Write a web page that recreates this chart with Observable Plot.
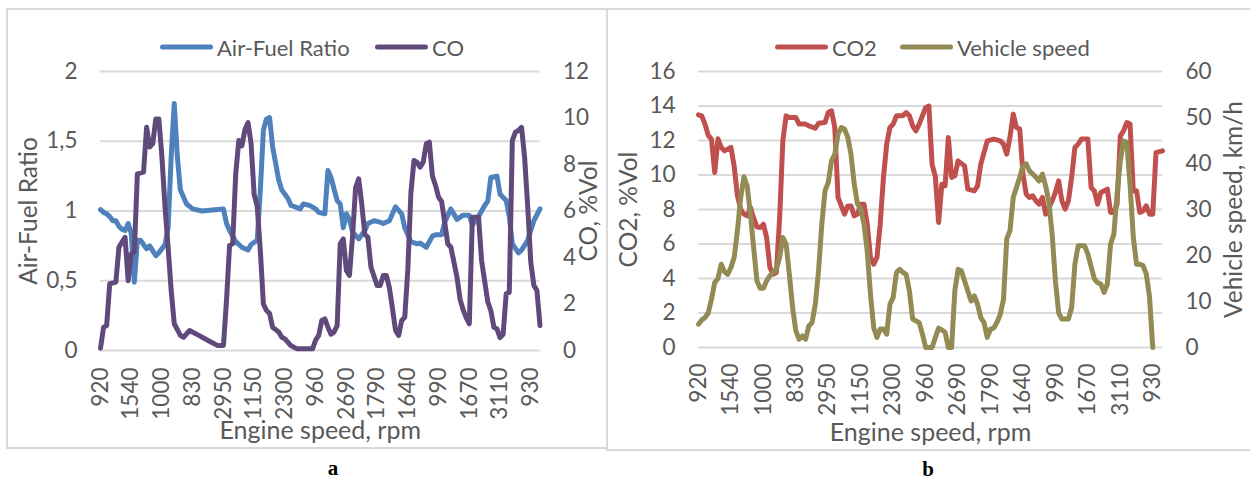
<!DOCTYPE html>
<html><head><meta charset="utf-8">
<script src="https://cdn.jsdelivr.net/npm/d3@7"></script>
<script src="https://cdn.jsdelivr.net/npm/@observablehq/plot@0.6"></script>
<style>
body{margin:0;background:#fff;}
#root{position:relative;width:1250px;height:481px;overflow:hidden;font-family:Lato,"Open Sans",sans-serif;background:#fff;}
.chart{position:absolute;top:0;}
.border{position:absolute;border:2px solid #d9d9d9;box-sizing:border-box;pointer-events:none;z-index:3;}
.leg{position:absolute;display:flex;align-items:center;color:#595959;font-size:22px;white-space:nowrap;transform:translateY(-50%);z-index:4;}
.sw{display:inline-block;width:53px;height:5px;border-radius:3px;margin-right:4px;}
.lab{position:absolute;font-family:"Liberation Serif","DejaVu Serif",serif;font-weight:bold;font-size:21px;transform:translate(-50%,-50%);color:#000;}
</style>
</head><body>
<div id="root">
  <div class="chart" id="ca" style="left:0;"></div>
  <div class="chart" id="cb" style="left:607px;"></div>
  <div class="border" style="left:6px;top:8px;width:602px;height:441px;"></div>
  <div class="border" style="left:606px;top:8px;width:660px;height:443px;"></div>
  <div class="leg" style="left:160px;top:47px;"><span class="sw" style="background:#4f81bd"></span>Air-Fuel Ratio</div>
  <div class="leg" style="left:375px;top:47px;"><span class="sw" style="background:#604a7b"></span>CO</div>
  <div class="leg" style="left:775px;top:47px;"><span class="sw" style="background:#c0504d"></span>CO2</div>
  <div class="leg" style="left:900px;top:47px;"><span class="sw" style="background:#948a54"></span>Vehicle speed</div>
  <div class="lab" style="left:333px;top:468px;">a</div>
  <div class="lab" style="left:928px;top:469px;">b</div>
</div>
<script>
// Category tick labels (engine speed, rpm), shown every 10th category
const xLabels = ["920","1540","1000","830","2950","1150","2300","960","2690","1790","1640","990","1670","3110","930"];
const xTickIdx = xLabels.map((_, i) => i * 10);
const nCategories = 144;

// Panel a: [category index, value]
const airFuelRatio = [[0,1.01],[1,0.99],[2,0.98],[3,0.96],[4,0.93],[5,0.93],[6,0.89],[7,0.87],[8,0.86],[9,0.91],[10,0.84],[11,0.49],[12,0.79],[13,0.79],[15,0.73],[16,0.75],[18,0.68],[19,0.70],[21,0.76],[22,0.88],[23,1.39],[24,1.77],[25,1.39],[26,1.15],[28,1.05],[30,1.015],[33,1.0],[40,1.015],[41,0.91],[42,0.86],[44,0.78],[46,0.74],[48,0.72],[49,0.76],[51,0.79],[52,1.15],[53,1.58],[54,1.66],[55,1.67],[56,1.46],[58,1.22],[59,1.15],[61,1.09],[62,1.04],[65,1.015],[66,1.05],[68,1.04],[70,1.015],[71,0.99],[73,0.98],[74,1.29],[75,1.24],[77,1.075],[78,1.05],[79,0.88],[80,0.98],[81,0.94],[82,0.85],[84,0.80],[86,0.86],[87,0.91],[89,0.93],[91,0.92],[92,0.91],[94,0.93],[96,1.03],[98,0.98],[99,0.88],[101,0.78],[103,0.765],[104,0.77],[106,0.74],[108,0.82],[109,0.83],[111,0.83],[112,0.92],[114,1.015],[116,0.94],[118,0.97],[120,0.97],[121,0.90],[123,0.96],[125,1.04],[126,1.07],[127,1.24],[129,1.25],[130,1.12],[132,1.075],[133,0.96],[134,0.765],[136,0.70],[137,0.72],[139,0.79],[141,0.93],[143,1.015]];
const coVol = [[0,0.1],[1,1.0],[2,1.07],[3,2.87],[5,2.94],[6,4.44],[7,4.66],[8,4.87],[9,3.0],[10,4.16],[11,4.23],[12,7.6],[14,7.67],[15,9.6],[16,8.75],[17,8.9],[18,9.96],[19,9.96],[20,8.3],[21,6.16],[22,4.44],[23,2.58],[24,1.15],[26,0.65],[27,0.57],[29,0.86],[32,0.65],[35,0.43],[38,0.22],[40,0.22],[41,2.15],[42,4.52],[43,4.59],[44,7.6],[45,9.03],[46,8.8],[47,9.5],[48,9.8],[49,8.9],[50,6.7],[51,6.2],[52,4.3],[53,2.0],[54,1.72],[55,1.6],[56,1.0],[58,0.8],[59,0.57],[60,0.5],[62,0.2],[64,0.07],[69,0.07],[70,0.45],[71,0.65],[72,1.29],[73,1.36],[74,1.0],[75,0.7],[76,0.8],[77,1.07],[78,4.59],[79,4.8],[80,3.44],[81,3.23],[82,4.9],[83,7.0],[84,7.38],[85,6.3],[86,5.0],[87,4.87],[88,3.58],[90,2.8],[91,2.8],[92,3.23],[93,3.23],[94,2.7],[95,1.8],[96,0.86],[97,0.65],[98,1.29],[99,1.43],[100,3.5],[101,6.8],[102,8.17],[103,8.1],[104,7.89],[105,8.1],[106,8.89],[107,8.96],[108,7.5],[109,7.1],[110,6.6],[111,6.4],[112,5.5],[113,4.59],[114,4.44],[116,3.15],[117,2.2],[118,1.75],[119,1.4],[120,1.15],[121,5.73],[123,5.73],[124,3.87],[126,2.1],[127,1.72],[128,1.0],[129,0.93],[130,0.55],[131,0.7],[132,2.44],[133,2.5],[134,9.03],[135,9.39],[136,9.46],[137,9.6],[138,8.3],[139,6.2],[140,3.8],[141,2.8],[142,2.58],[143,1.07]];

// Panel b: [category index, value]
const co2Vol = [[0,13.49],[1,13.43],[2,12.95],[3,12.3],[4,12.08],[5,10.14],[6,12.1],[7,11.6],[8,11.4],[10,11.6],[11,10.5],[12,8.8],[13,8.0],[14,7.73],[15,7.63],[16,8.12],[17,7.5],[18,7.0],[19,6.96],[20,7.15],[21,6.38],[22,4.64],[23,4.25],[24,4.35],[25,7.5],[26,12.0],[27,13.43],[28,13.33],[30,13.33],[31,12.95],[33,12.95],[34,12.85],[36,12.71],[37,13.0],[39,13.04],[40,13.62],[41,13.72],[42,12.75],[43,8.7],[44,8.21],[45,7.73],[46,8.21],[47,8.21],[48,7.63],[49,7.73],[50,8.31],[51,8.31],[52,7.15],[53,5.22],[54,4.83],[55,5.22],[56,7.15],[57,9.86],[58,11.79],[59,12.75],[60,12.95],[61,13.43],[63,13.43],[64,13.62],[65,13.43],[66,12.85],[67,12.56],[68,12.95],[69,13.43],[70,13.9],[71,14.0],[72,10.6],[73,9.9],[74,7.25],[75,9.47],[76,9.37],[77,12.17],[78,9.86],[79,9.95],[80,10.82],[82,10.53],[83,9.18],[85,9.08],[86,9.37],[87,10.63],[89,11.98],[91,12.08],[93,11.98],[94,11.79],[95,11.21],[96,12.2],[97,13.53],[98,12.75],[99,12.66],[100,10.05],[101,8.89],[102,8.7],[103,8.79],[104,8.5],[105,8.31],[106,8.7],[107,7.73],[109,8.5],[110,8.99],[111,9.66],[112,8.5],[113,8.02],[114,8.5],[115,9.86],[116,11.59],[117,11.79],[118,12.08],[120,12.08],[121,9.28],[122,9.08],[123,8.31],[124,8.99],[126,9.18],[127,7.83],[128,7.83],[129,8.31],[130,12.27],[131,12.56],[132,13.04],[133,12.95],[134,9.08],[135,9.08],[136,7.83],[137,7.92],[138,8.21],[139,7.73],[140,7.73],[141,11.3],[143,11.4]];
const vehicleSpeed = [[0,5.07],[1,6.0],[2,6.5],[3,7.5],[4,10.5],[5,14.1],[6,15.0],[7,18.1],[8,16.5],[9,15.9],[10,17.4],[11,19.6],[12,25.4],[13,32.6],[14,37.1],[15,35.1],[16,29.0],[17,21.7],[18,14.5],[19,12.9],[20,12.9],[21,14.5],[22,15.6],[24,17.0],[25,19.6],[26,23.9],[27,22.5],[28,15.9],[29,8.7],[30,3.6],[31,1.8],[32,2.5],[33,1.8],[34,4.7],[35,5.4],[36,9.4],[37,16.7],[38,26.8],[39,34.1],[40,35.9],[41,40.6],[42,42.0],[43,46.4],[44,47.8],[45,47.5],[46,45.7],[47,42.0],[48,35.5],[49,31.2],[50,30.1],[51,26.8],[52,21.0],[53,11.6],[54,4.3],[55,2.2],[56,4.0],[57,4.0],[58,2.9],[59,9.4],[60,10.9],[61,16.3],[62,17.0],[63,16.3],[64,15.9],[65,12.3],[66,6.2],[68,5.4],[69,3.0],[70,0],[72,0],[73,2.2],[74,4.2],[75,3.8],[76,3.3],[77,0],[78,0],[79,12.3],[80,17.0],[81,16.7],[83,12.3],[84,10.1],[85,11.2],[86,9.4],[87,6.5],[88,5.4],[89,2.2],[90,4.0],[91,4.2],[92,5.5],[93,7.2],[94,10.5],[95,23.6],[96,25.4],[97,32.6],[99,37.0],[100,39.5],[101,39.9],[102,38.4],[104,37.0],[105,36.2],[106,37.7],[107,35.1],[108,31.5],[109,24.5],[110,14.5],[111,7.5],[112,6.2],[114,6.2],[115,8.7],[116,18.1],[117,22.1],[119,22.1],[120,20.3],[122,14.9],[123,14.1],[124,13.8],[125,12.0],[126,13.8],[127,22.5],[128,24.6],[129,33.3],[130,40.6],[131,44.9],[132,44.6],[133,35.5],[134,24.0],[135,18.1],[136,18.1],[137,17.8],[138,16.0],[139,11.0],[140,0]];

// Axis ticks
const afrTicks = [0, 0.5, 1, 1.5, 2];
const coTicks = [0, 2, 4, 6, 8, 10, 12];
const co2Ticks = [0, 2, 4, 6, 8, 10, 12, 14, 16];
const speedTicks = [0, 10, 20, 30, 40, 50, 60];

const grey = "#595959";

function makePanel(cfg) {
  const k = cfg.rightMax / cfg.leftMax;
  const lineOpts = {strokeWidth: 5, strokeLinejoin: "round", strokeLinecap: "round"};
  return Plot.plot({
    width: cfg.width, height: cfg.height,
    marginLeft: cfg.ml, marginRight: cfg.mr, marginTop: cfg.mt, marginBottom: cfg.mb,
    style: {fontFamily: "Lato, 'Open Sans', sans-serif", fontSize: "22.5px", color: grey, background: "transparent"},
    x: {domain: [0, nCategories - 1]},
    y: {domain: [0, cfg.leftMax]},
    marks: [
      Plot.gridY(cfg.leftTicks, {stroke: "#d9d9d9", strokeOpacity: 1, strokeWidth: 2}),
      Plot.axisY(cfg.leftTicks, {anchor: "left", tickSize: 0, tickPadding: 23, tickFormat: cfg.leftFmt, label: null}),
      Plot.axisY(cfg.rightTicks.map(t => t / k), {anchor: "right", tickSize: 0, tickPadding: 23, tickFormat: d => String(Math.round(d * k)), label: null}),
      Plot.axisX(xTickIdx, {anchor: "bottom", tickSize: 0, tickPadding: cfg.xpad, tickRotate: -90, tickFormat: d => xLabels[Math.round(d / 10)], label: null}),
      Plot.line(cfg.s1, {x: d => d[0], y: d => d[1], stroke: cfg.c1, ...lineOpts}),
      Plot.line(cfg.s2, {x: d => d[0], y: d => d[1] / k, stroke: cfg.c2, ...lineOpts}),
      Plot.text([cfg.leftTitle], {text: d => d, frameAnchor: "left", textAnchor: "middle", lineAnchor: "middle", dx: cfg.ltdx, rotate: -90, fontSize: 24.5, fill: grey}),
      Plot.text([cfg.rightTitle], {text: d => d, frameAnchor: "right", textAnchor: "middle", lineAnchor: "middle", dx: cfg.rtdx, rotate: -90, fontSize: 24.5, fill: grey}),
      Plot.text(["Engine speed, rpm"], {text: d => d, frameAnchor: "bottom", textAnchor: "middle", lineAnchor: "middle", dy: cfg.xtdy, fontSize: 25, fill: grey})
    ]
  });
}

document.getElementById("ca").appendChild(makePanel({
  width: 607, height: 448, ml: 100, mr: 67.5, mt: 71, mb: 98, xpad: 17,
  leftMax: 2, rightMax: 12, leftTicks: afrTicks, rightTicks: coTicks,
  leftFmt: d => String(d).replace(".", ","),
  s1: airFuelRatio, s2: coVol, c1: "#4f81bd", c2: "#604a7b",
  leftTitle: "Air-Fuel Ratio", rightTitle: "CO, %Vol", ltdx: -71.5, rtdx: 49, xtdy: 80
}));

document.getElementById("cb").appendChild(makePanel({
  width: 643, height: 450, ml: 91, mr: 88, mt: 71, mb: 103, xpad: 16,
  leftMax: 16, rightMax: 60, leftTicks: co2Ticks, rightTicks: speedTicks,
  leftFmt: d => String(d),
  s1: co2Vol, s2: vehicleSpeed, c1: "#c0504d", c2: "#948a54",
  leftTitle: "CO2, %Vol", rightTitle: "Vehicle speed, km/h", ltdx: -69.5, rtdx: 72, xtdy: 85
}));
</script>
</body></html>
